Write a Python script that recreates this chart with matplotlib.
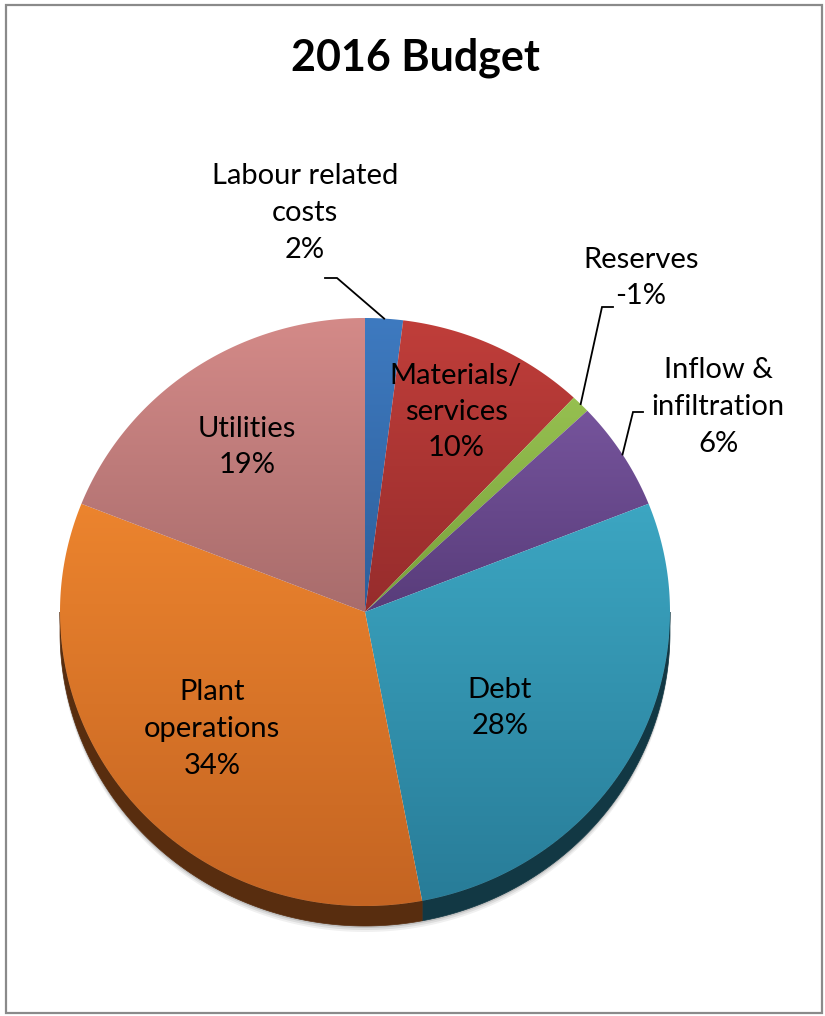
import numpy as np
import matplotlib
matplotlib.use("Agg")
import matplotlib.pyplot as plt
from matplotlib.patches import Polygon, Rectangle

# budget shares, clockwise from 12 o'clock
categories = ["Labour related\ncosts", "Materials/\nservices", "Reserves",
              "Inflow &\ninfiltration", "Debt", "Plant\noperations", "Utilities"]
values = [2, 10, -1, 6, 28, 34, 19]

top_colors = [(62, 122, 192), (192, 62, 58), (150, 192, 80), (118, 84, 156),
              (60, 166, 194), (236, 132, 46), (212, 138, 136)]
bottom_colors = [(45, 95, 155), (150, 44, 44), (120, 160, 60), (88, 60, 122),
                 (40, 124, 152), (196, 100, 34), (168, 108, 108)]

label_xy = [(305, 213), (456, 412), (641, 278), (718, 407),
            (500, 708), (212, 729), (247, 447)]
# leader lines: (x at label, x at knee, y) or None for labels inside
leaders = [(325, 337, 278), None, (613, 602, 307), (643, 633, 412), None, None, None]

cx, cy, rx, ry, depth = 365, 612, 305, 294, 20

plt.rcParams["font.family"] = ["Lato", "DejaVu Sans"]

fig = plt.figure(figsize=(8.25, 10.16), dpi=100)
ax = fig.add_axes([0, 0, 1, 1])
ax.set_xlim(0, 825)
ax.set_ylim(1016, 0)
ax.axis("off")


def arc(a0, a1, n=200):
    t = np.radians(np.linspace(a0, a1, n))
    return np.column_stack([cx + rx * np.sin(t), cy - ry * np.cos(t)])


def rgb(c, k=1.0):
    return tuple(min(1, v * k / 255) for v in c)


sizes = np.abs(values)
edges = np.concatenate([[0], np.cumsum(sizes)]) / sizes.sum() * 360

# soft shadow under the pie
for off, al in [(depth + 6, 0.06), (depth + 4, 0.08), (depth + 2, 0.12)]:
    sh = arc(90, 270)
    sh2 = sh[::-1] + [0, off]
    ax.add_patch(Polygon(np.vstack([sh, sh2]), fc="black", ec="none", alpha=al, zorder=1))

# side wall on the front half
for i in range(len(values)):
    s0, s1 = max(edges[i], 90), min(edges[i + 1], 270)
    if s1 > s0:
        pts = arc(s0, s1)
        wall = np.vstack([pts, pts[::-1] + [0, depth]])
        ax.add_patch(Polygon(wall, fc=rgb(bottom_colors[i], 0.45), ec=rgb(bottom_colors[i], 0.45),
                             lw=0.5, zorder=2))

# top faces with a vertical gradient per slice
for i in range(len(values)):
    pts = np.vstack([[cx, cy], arc(edges[i], edges[i + 1])])
    patch = Polygon(pts, fc="none", ec="none", zorder=3)
    ax.add_patch(patch)
    x0, y0 = pts.min(axis=0)
    x1, y1 = pts.max(axis=0)
    f = np.linspace(0, 1, 256)[:, None, None]
    grad = np.array(rgb(top_colors[i]))[None, None, :] * (1 - f) + \
        np.array(rgb(bottom_colors[i]))[None, None, :] * f
    grad = np.repeat(grad, 2, axis=1)
    im = ax.imshow(grad, extent=(x0 - 1, x1 + 1, y1 + 1, y0 - 1), aspect="auto",
                   interpolation="bilinear", zorder=3)
    im.set_clip_path(patch)

ax.set_xlim(0, 825)
ax.set_ylim(1016, 0)

# labels and leader lines
for i, name in enumerate(categories):
    x, y = label_xy[i]
    ax.text(x, y, f"{name}\n{values[i]}%", ha="center", va="center", fontsize=21,
            linespacing=1.5, color="black", zorder=5)
    if leaders[i]:
        lx, kx, ly = leaders[i]
        mid = arc((edges[i] + edges[i + 1]) / 2, (edges[i] + edges[i + 1]) / 2, 1)[0]
        ax.plot([lx, kx, mid[0]], [ly, ly, mid[1]], color="black", lw=1.3,
                solid_joinstyle="miter", zorder=5)

ax.text(415, 58, "2016 Budget", ha="center", va="center", fontsize=31,
        fontweight="bold", zorder=5)

ax.add_patch(Rectangle((6, 5), 816, 1008, fill=False, ec="#8a8a8a", lw=1.6, zorder=6))

fig.savefig("out.png", dpi=100)
